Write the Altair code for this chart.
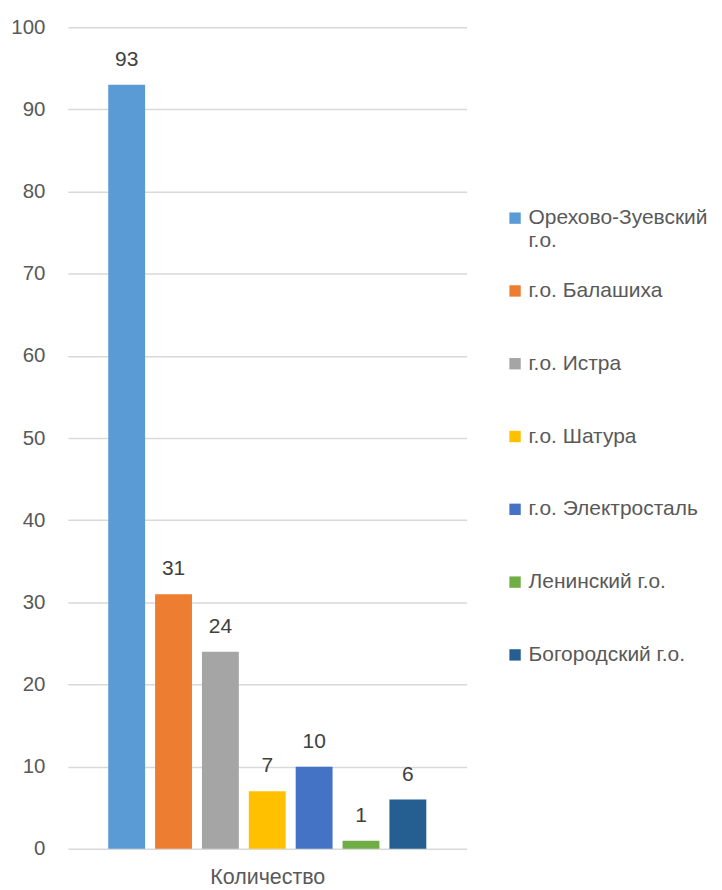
import altair as alt
import pandas as pd

series = ["Орехово-Зуевский г.о.", "г.о. Балашиха", "г.о. Истра", "г.о. Шатура",
          "г.о. Электросталь", "Ленинский г.о.", "Богородский г.о."]
values = [93, 31, 24, 7, 10, 1, 6]
colors = ["#5B9BD5", "#ED7D31", "#A5A5A5", "#FFC000", "#4472C4", "#70AD47", "#255E91"]
category = "Количество"
y_ticks = [0, 10, 20, 30, 40, 50, 60, 70, 80, 90, 100]

df = pd.DataFrame({"series": series, "value": values})

FONT = "Liberation Sans"

x = alt.X("series:N", sort=series,
          scale=alt.Scale(paddingInner=0.213, paddingOuter=0.862),
          axis=alt.Axis(title=category, labels=False, ticks=False, domain=False,
                        titleFont=FONT, titleFontSize=21.5, titleFontWeight="normal",
                        titleColor="#595959", titlePadding=18))
y = alt.Y("value:Q", scale=alt.Scale(domain=[0, 100], nice=False),
          axis=alt.Axis(title=None, values=y_ticks, domain=False, ticks=False,
                        labelFont=FONT, labelFontSize=20.5, labelColor="#595959",
                        labelPadding=23, gridColor="#D9D9D9", gridWidth=1.5))

bars = alt.Chart(df).mark_bar().encode(
    x=x, y=y,
    color=alt.Color("series:N", sort=series,
                    scale=alt.Scale(domain=series, range=colors),
                    legend=alt.Legend(
                        title=None, orient="none", legendX=438, legendY=181,
                        symbolType="square", symbolSize=130, symbolStrokeWidth=0,
                        labelFont=FONT, labelFontSize=21, labelColor="#595959",
                        labelLimit=300, rowPadding=28, labelOffset=3,
                        labelExpr="datum.label == 'Орехово-Зуевский г.о.' ? ['Орехово-Зуевский', 'г.о.'] : [datum.label, '']",
                    )),
)

labels = alt.Chart(df).mark_text(dy=-25, font=FONT, fontSize=21, color="#404040").encode(
    x=alt.X("series:N", sort=series), y="value:Q", text="value:Q"
)

chart = alt.layer(bars, labels).properties(
    width=400, height=824,
    padding={"left": 60, "top": 18, "right": 248, "bottom": 38},
    autosize=alt.AutoSizeParams(type="none"),
).configure_view(stroke=None).configure_axis(labelFont=FONT)

chart.save("out.html", embed_options={"renderer": "svg", "actions": False})
